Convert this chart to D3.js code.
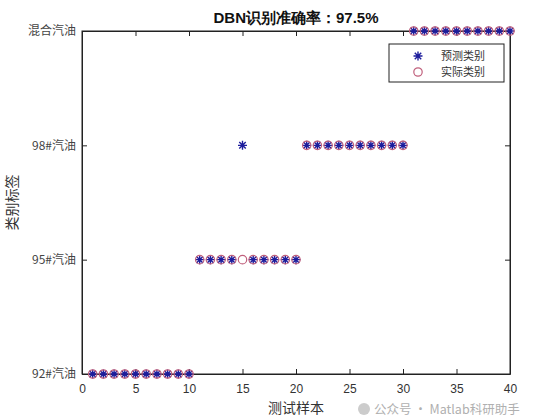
<!DOCTYPE html>
<html><head><meta charset="utf-8">
<script src="https://cdn.jsdelivr.net/npm/d3@7"></script>
<style>
body{margin:0;background:#fff;}
svg{display:block;}
</style></head>
<body>
<script>
const title = "DBN识别准确率：97.5%";
const classLabels = ["92#汽油","95#汽油","98#汽油","混合汽油"];
const classValues = [1,2,3,4];
const samples = d3.range(1,41);
const actual = [1,1,1,1,1,1,1,1,1,1, 2,2,2,2,2,2,2,2,2,2, 3,3,3,3,3,3,3,3,3,3, 4,4,4,4,4,4,4,4,4,4];
const predicted = [1,1,1,1,1,1,1,1,1,1, 2,2,2,2,3,2,2,2,2,2, 3,3,3,3,3,3,3,3,3,3, 4,4,4,4,4,4,4,4,4,4];
const xTicks = [0,5,10,15,20,25,30,35,40];
const legendLabels = ["预测类别","实际类别"];
const xLabel = "测试样本";
const yLabel = "类别标签";
const watermark = "公众号 · Matlab科研助手";

const W=560,H=420;
const m={l:82,r:510,t:31,b:374};
const svg=d3.select("body").append("svg").attr("width",W).attr("height",H);
const x=d3.scaleLinear().domain([0,40]).range([m.l,m.r]);
const y=d3.scaleLinear().domain([1,4]).range([m.b,m.t]);
const cjk="'Noto Sans CJK SC', sans-serif";
const num="'Liberation Sans', Arial, sans-serif";
const predColor="#1c1c9c", actColor="#c0607c";

// box
svg.append("rect").attr("x",m.l).attr("y",m.t).attr("width",m.r-m.l).attr("height",m.b-m.t)
  .attr("fill","#fff").attr("stroke","#222").attr("stroke-width",1);

// x axis bottom
const xAxis=svg.append("g").attr("transform",`translate(0,${m.b})`)
  .call(d3.axisBottom(x).tickValues(xTicks).tickSizeInner(-5).tickSizeOuter(0).tickPadding(10));
xAxis.select(".domain").attr("stroke","#222");
xAxis.selectAll(".tick line").attr("stroke","#222");
xAxis.selectAll("text").attr("font-family",num).attr("font-size",12).attr("fill","#333");
// top ticks
const xTop=svg.append("g").attr("transform",`translate(0,${m.t})`)
  .call(d3.axisTop(x).tickValues(xTicks).tickSizeInner(-5).tickSizeOuter(0).tickFormat(""));
xTop.select(".domain").attr("stroke","#222");
xTop.selectAll(".tick line").attr("stroke","#222");

// y axis
const yAxis=svg.append("g").attr("transform",`translate(${m.l},0)`)
  .call(d3.axisLeft(y).tickValues(classValues).tickSizeInner(-5).tickSizeOuter(0).tickPadding(6)
    .tickFormat(d=>classLabels[d-1]));
yAxis.select(".domain").attr("stroke","#222");
yAxis.selectAll(".tick line").attr("stroke","#222");
yAxis.selectAll("text").attr("font-family",cjk).attr("font-size",12).attr("fill","#444");
const yRight=svg.append("g").attr("transform",`translate(${m.r},0)`)
  .call(d3.axisRight(y).tickValues(classValues).tickSizeInner(-5).tickSizeOuter(0).tickFormat(""));
yRight.select(".domain").attr("stroke","#222");
yRight.selectAll(".tick line").attr("stroke","#222");

// markers
function star(g,cx,cy,r,color){
  const p=d3.path();
  p.moveTo(cx-r,cy);p.lineTo(cx+r,cy);
  p.moveTo(cx,cy-r);p.lineTo(cx,cy+r);
  const d=r*0.72;
  p.moveTo(cx-d,cy-d);p.lineTo(cx+d,cy+d);
  p.moveTo(cx-d,cy+d);p.lineTo(cx+d,cy-d);
  g.append("path").attr("d",p.toString()).attr("stroke",color).attr("stroke-width",1.4).attr("fill","none");
}
const gm=svg.append("g");
samples.forEach((s,i)=>{
  star(gm,x(s),y(predicted[i]),4.5,predColor);
});
gm.selectAll("circle.act").data(samples).join("circle").attr("class","act")
  .attr("cx",d=>x(d)).attr("cy",(d,i)=>y(actual[i])).attr("r",4.2)
  .attr("fill","none").attr("stroke",actColor).attr("stroke-width",1.2);

// legend
const lg=svg.append("g");
lg.append("rect").attr("x",389).attr("y",44).attr("width",115).attr("height",38)
  .attr("fill","#fff").attr("stroke","#222").attr("stroke-width",1);
star(lg,418,56,4.5,predColor);
lg.append("circle").attr("cx",418).attr("cy",72).attr("r",4.2).attr("fill","none").attr("stroke",actColor).attr("stroke-width",1.2);
legendLabels.forEach((t,i)=>{
  lg.append("text").attr("x",441).attr("y",56+i*16).attr("dy","0.35em")
    .attr("font-family",cjk).attr("font-size",11).attr("fill","#333").text(t);
});

// title
svg.append("text").attr("x",(m.l+m.r)/2).attr("y",23).attr("text-anchor","middle")
  .attr("font-family",num).attr("font-weight","bold").attr("font-size",15).attr("fill","#111")
  .text(title);
// axis labels
svg.append("text").attr("x",(m.l+m.r)/2).attr("y",413).attr("text-anchor","middle")
  .attr("font-family",cjk).attr("font-size",14).attr("fill","#333").text(xLabel);
svg.append("text").attr("transform",`translate(17,${(m.t+m.b)/2}) rotate(-90)`).attr("text-anchor","middle")
  .attr("font-family",cjk).attr("font-size",14).attr("fill","#333").text(yLabel);
// watermark
svg.append("circle").attr("cx",364).attr("cy",409).attr("r",6).attr("fill","#ccc");
svg.append("text").attr("x",374).attr("y",414).attr("font-family",cjk).attr("font-size",12.5)
  .attr("fill","#b0b0b0").text(watermark);
</script>
</body></html>
